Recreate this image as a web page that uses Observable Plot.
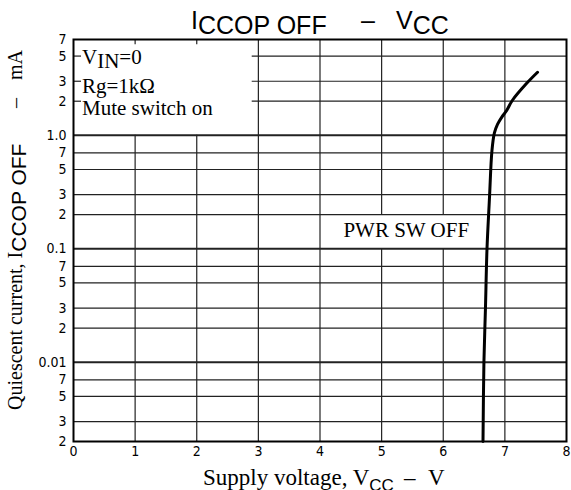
<!DOCTYPE html>
<html><head><meta charset="utf-8">
<script src="https://cdn.jsdelivr.net/npm/d3@7"></script>
<script src="https://cdn.jsdelivr.net/npm/@observablehq/plot@0.6"></script>
<style>body{margin:0;background:#fff} svg{display:block}</style>
</head><body><div id="chart"></div>
<script>
// Curve: PWR SW OFF
const vcc = [6.645, 6.66, 6.685, 6.71, 6.75, 6.79, 6.83, 6.88, 6.95, 7.03, 7.12, 7.35, 7.53];
const icc = [0.002, 0.01, 0.03, 0.1, 0.28, 0.73, 1.05, 1.25, 1.45, 1.66, 2.03, 2.86, 3.6];

const xTicks = [0, 1, 2, 3, 4, 5, 6, 7, 8];
const xTickLabels = ["0", "1", "2", "3", "4", "5", "6", "7", "8"];
const yTicks = [0.002, 0.003, 0.005, 0.007, 0.01, 0.02, 0.03, 0.05, 0.07, 0.1, 0.2, 0.3, 0.5, 0.7, 1, 2, 3, 5, 7];
const yTickLabels = ["2", "3", "5", "7", "0.01", "2", "3", "5", "7", "0.1", "2", "3", "5", "7", "1.0", "2", "3", "5", "7"];
const decades = [0.01, 0.1, 1];

const legendLines = ["V|IN|=0", "Rg=1kΩ", "Mute switch on"];
const curveLabel = "PWR SW OFF";

const boxRight = 2.9;          // right edge of the condition box (x units)
const boxBottom = 1;           // bottom edge of the condition box (y units)

const data = vcc.map((v, i) => ({v, i: icc[i]}));
const vGrid = xTicks.filter(d => d > 0 && d < 8);
const hGrid = yTicks.filter(d => d > 0.002 && d < 7);

const narrow = "'Liberation Sans Narrow','Arial Narrow','DejaVu Sans Condensed',sans-serif";
const sans = "'Liberation Sans',Arial,sans-serif";
const serif = "'Liberation Serif','Times New Roman',serif";

const plot = Plot.plot({
  width: 571,
  height: 490,
  marginTop: 39,
  marginBottom: 49,
  marginLeft: 73,
  marginRight: 5,
  style: {fontFamily: narrow, fontSize: "14px", color: "black", background: "white"},
  x: {domain: [0, 8], axis: null},
  y: {type: "log", domain: [0.002, 7], axis: null},
  marks: [
    Plot.ruleX(vGrid, {x: d => d, y1: 0.002, y2: d => d < boxRight ? boxBottom : 7, stroke: "#222", strokeWidth: 1.2}),
    Plot.rect([0], {x1: 4.25, x2: 6.69, y1: 0.1, y2: 0.2, fill: "white"}),
    Plot.ruleY(hGrid, {y: d => d, x1: d => (d > boxBottom ? boxRight : 0), x2: 8,
      stroke: "#222", strokeWidth: d => decades.includes(d) ? 2 : 1.2}),
    Plot.ruleY([5, 3, 2], {y: d => d, x1: 0, x2: 0.13, stroke: "#222", strokeWidth: 1.2}),
    Plot.ruleX([1, 2], {x: d => d, y1: 7, y2: 6.3, stroke: "#222", strokeWidth: 1.2}),
    Plot.line(data, {x: "v", y: "i", curve: "catmull-rom", stroke: "black", strokeWidth: 3}),
    Plot.frame({stroke: "black", strokeWidth: 2}),
    Plot.text([curveLabel], {x: 4.38, y: 0.145, text: d => d, textAnchor: "start", fontFamily: serif, fontSize: 21, fill: "black"}),
    Plot.text(xTicks, {x: d => d, frameAnchor: "bottom", lineAnchor: "top", dy: 5, text: (d, i) => xTickLabels[i], fontSize: 14, fill: "black"}),
    Plot.text(yTicks, {y: d => d, frameAnchor: "left", textAnchor: "end", dx: -7, text: (d, i) => yTickLabels[i], fontSize: 14, fill: "black"})
  ]
});
document.getElementById("chart").append(plot);

const svg = d3.select(plot);
const sx = plot.scale("x"), sy = plot.scale("y");

function txt(family, size) {
  return svg.append("text").attr("font-family", family).attr("font-size", size)
    .attr("fill", "black").attr("text-anchor", "start");
}

// Title
const t = txt(sans, 25);
t.append("tspan").attr("x", 191).attr("y", 29).text("I");
t.append("tspan").attr("y", 34).text("CCOP OFF");
t.append("tspan").attr("x", 361).attr("y", 29).text("–");
t.append("tspan").attr("x", 396).attr("y", 29).text("V");
t.append("tspan").attr("y", 34).text("CC");

// Condition box text
const lx = sx.apply(0) + 9;
const l1 = txt(serif, 21).attr("x", lx).attr("y", sy.apply(5) + 8);
const parts = legendLines[0].split("|");
l1.append("tspan").text(parts[0]);
l1.append("tspan").attr("dy", 4).text(parts[1]);
l1.append("tspan").attr("dy", -4).text(parts[2]);
txt(serif, 21).attr("x", lx).attr("y", sy.apply(3) + 12).text(legendLines[1]);
txt(serif, 21).attr("x", lx).attr("y", sy.apply(2) + 14).text(legendLines[2]);

// X axis label
const xl = txt(serif, 23);
xl.append("tspan").attr("x", 203).attr("y", 485).text("Supply voltage, V");
xl.append("tspan").attr("y", 491).attr("font-family", sans).attr("font-size", 17).text("CC");
xl.append("tspan").attr("x", 404).attr("y", 485).text("–");
xl.append("tspan").attr("x", 428).attr("y", 485).text("V");

// Y axis label (rotated)
const yl = txt(serif, 20).attr("transform", "translate(22,410) rotate(-90)");
yl.append("tspan").attr("x", 0).attr("y", 0).text("Quiescent current, I");
yl.append("tspan").attr("y", 4).attr("font-family", sans).attr("font-size", 21).text("CCOP OFF");
yl.append("tspan").attr("x", 302).attr("y", 0).text("–");
yl.append("tspan").attr("x", 330).attr("y", 0).text("mA");
</script>
</body></html>
